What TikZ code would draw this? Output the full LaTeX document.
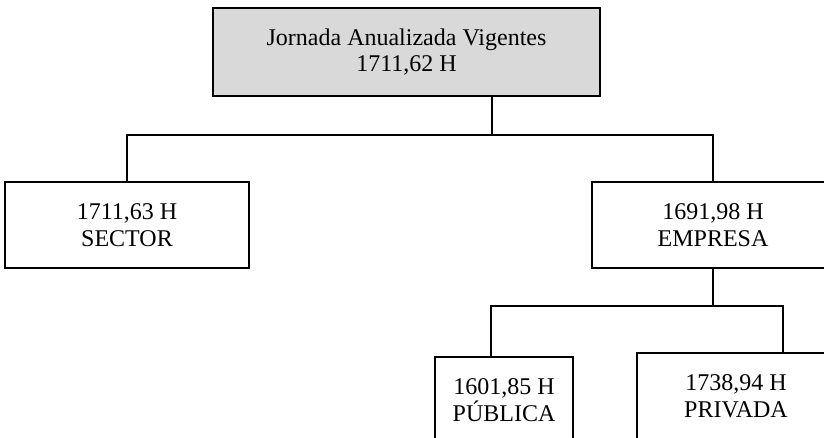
\documentclass[tikz,border=0pt]{standalone}
\usepackage{fontspec}
\setmainfont{Liberation Serif}
\definecolor{gris}{RGB}{217,217,217}
\begin{document}
\begin{tikzpicture}[x=0.75pt,y=-0.75pt,
    caja/.style={draw=black, line width=1.4pt, fill=white, align=center,
        inner sep=0pt, font=\fontsize{18}{20}\selectfont},
    linea/.style={line width=1.4pt}]
    \useasboundingbox (0,0) rectangle (824,438);
    \clip (0,0) rectangle (824,438);

    % nivel superior
    \node[caja, fill=gris, minimum width=290.25pt, minimum height=66pt] (total) at (406.5,52)
        {Jornada Anualizada Vigentes\\1711,62 H};

    % segundo nivel
    \node[caja, minimum width=183pt, minimum height=64.5pt] (sector) at (127,225)
        {1711,63 H\\SECTOR};
    \node[caja, minimum width=181.5pt, minimum height=64.5pt] (empresa) at (713,225)
        {1691,98 H\\EMPRESA};

    % tercer nivel
    \node[caja, minimum width=103.5pt, minimum height=64.5pt] (publica) at (504,400)
        {1601,85 H\\PÚBLICA};
    \node[caja, minimum width=148.5pt, minimum height=64.5pt] (privada) at (736,396)
        {1738,94 H\\PRIVADA};

    % conexiones
    \coordinate (r1) at (492,135);
    \draw[linea] (total.south -| r1) -- (r1);
    \draw[linea] (sector.north) -- (sector.north |- r1) -- (empresa.north |- r1) -- (empresa.north);

    \coordinate (r2a) at (491,306);
    \coordinate (r2b) at (783,306);
    \draw[linea] (empresa.south) -- (empresa.south |- r2a);
    \draw[linea] (publica.north -| r2a) -- (r2a) -- (r2b) -- (privada.north -| r2b);
\end{tikzpicture}
\end{document}
